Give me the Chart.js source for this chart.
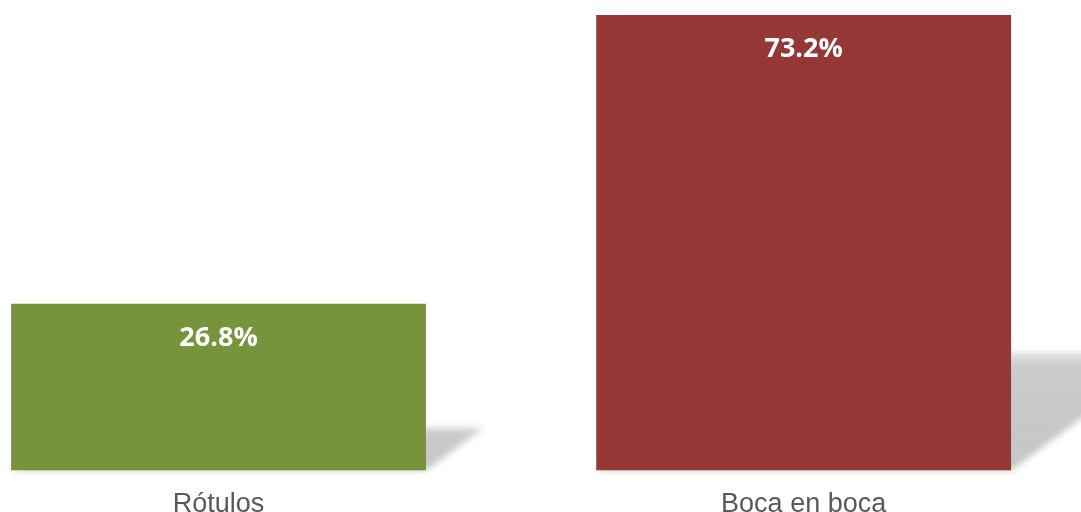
<!DOCTYPE html>
<html>
<head>
<meta charset="utf-8">
<script src="https://cdn.jsdelivr.net/npm/chart.js@4"></script>
<style>
html,body{margin:0;padding:0;background:#fff;}
#wrap{width:1081px;height:512px;position:relative;overflow:hidden;}
</style>
</head>
<body>
<div id="wrap"><canvas id="c" width="1081" height="539"></canvas></div>
<script>
const categories = ["Rótulos", "Boca en boca"];
const values = [26.8, 73.2];
const valueLabels = ["26.8%", "73.2%"];
const barColors = ["#77933C", "#953735"];
const xMin = -0.3735;
const xMax = 1.474;

const shadowPlugin = {
  id: 'barShadow',
  beforeDatasetsDraw(chart) {
    const ctx = chart.ctx;
    const meta = chart.getDatasetMeta(0);
    ctx.save();
    ctx.filter = 'blur(3px)';
    meta.data.forEach(bar => {
      const left = bar.x - bar.width / 2;
      const right = bar.x + bar.width / 2;
      const bottom = bar.base;
      const h = bottom - bar.y;
      const sh = h * 0.26;
      const shear = sh * 1.35;
      const grad = ctx.createLinearGradient(0, bottom - sh, 0, bottom);
      grad.addColorStop(0, 'rgba(140,140,140,0.25)');
      grad.addColorStop(0.12, 'rgba(140,140,140,0.45)');
      grad.addColorStop(1, 'rgba(140,140,140,0.5)');
      ctx.fillStyle = grad;
      ctx.beginPath();
      ctx.moveTo(left, bottom);
      ctx.lineTo(right, bottom);
      ctx.lineTo(right + shear, bottom - sh);
      ctx.lineTo(left + shear, bottom - sh);
      ctx.closePath();
      ctx.fill();
    });
    ctx.restore();
  }
};

const labelPlugin = {
  id: 'valueLabels',
  afterDatasetsDraw(chart) {
    const ctx = chart.ctx;
    const meta = chart.getDatasetMeta(0);
    ctx.save();
    ctx.font = 'bold 27px "Open Sans"';
    ctx.fillStyle = '#ffffff';
    ctx.textAlign = 'center';
    ctx.textBaseline = 'alphabetic';
    meta.data.forEach((bar, i) => {
      ctx.fillText(valueLabels[i], bar.x, bar.y + 42);
    });
    ctx.restore();
  }
};

new Chart(document.getElementById('c'), {
  type: 'bar',
  data: {
    datasets: [{
      data: values.map((v, i) => ({ x: i, y: v })),
      backgroundColor: barColors,
      borderWidth: 0,
      categoryPercentage: 1,
      barPercentage: 0.709
    }]
  },
  options: {
    responsive: false,
    animation: false,
    events: [],
    layout: { padding: { left: 0, right: 0, top: 15, bottom: 0 } },
    plugins: { legend: { display: false }, tooltip: { enabled: false } },
    scales: {
      x: {
        type: 'linear',
        offset: false,
        min: xMin,
        max: xMax,
        afterBuildTicks: (axis) => { axis.ticks = categories.map((c, i) => ({ value: i })); },
        grid: { display: false, drawTicks: false },
        border: { display: false },
        ticks: {
          color: '#595959',
          font: { family: '"Liberation Sans", Arial, sans-serif', size: 27 },
          padding: 18,
          maxRotation: 0,
          autoSkip: false,
          callback: (v) => categories[v]
        }
      },
      y: {
        display: false,
        min: 0,
        max: Math.max(...values)
      }
    }
  },
  plugins: [shadowPlugin, labelPlugin]
});
</script>
</body>
</html>
